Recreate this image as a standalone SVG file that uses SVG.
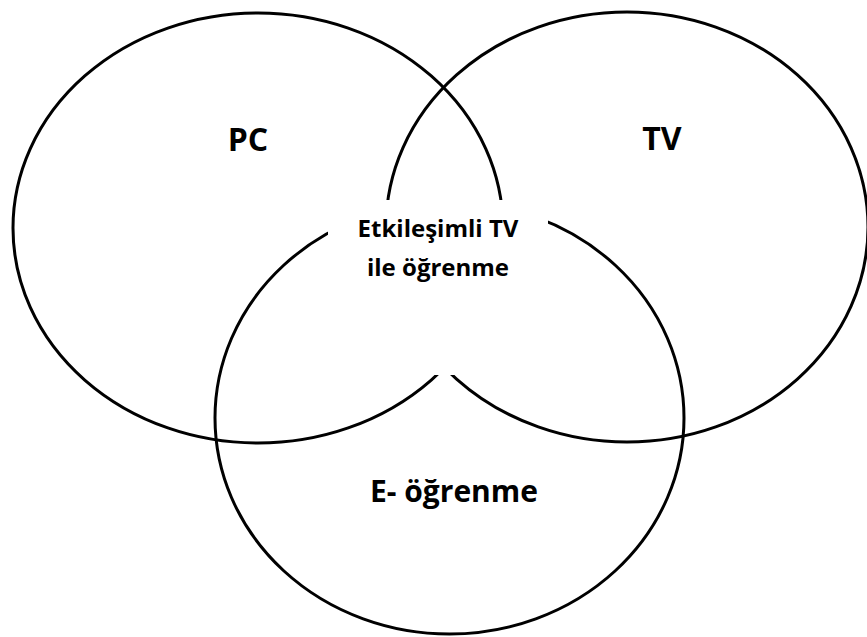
<svg xmlns="http://www.w3.org/2000/svg" width="867" height="637" viewBox="0 0 867 637">
  <style>
    .ring { fill: none; stroke: #000; stroke-width: 3; }
    .label { font-family: "Open Sans", "Liberation Sans", sans-serif; font-weight: bold; fill: #000; text-anchor: middle; }
  </style>
  <rect x="0" y="0" width="867" height="637" fill="#fff"/>
  <g id="pc">
    <ellipse class="ring" cx="258" cy="228" rx="245" ry="215"/>
  </g>
  <g id="tv">
    <ellipse class="ring" cx="627" cy="227" rx="241" ry="215"/>
  </g>
  <g id="e-ogrenme">
    <ellipse class="ring" cx="449.5" cy="418" rx="234.5" ry="216"/>
  </g>
  <!-- white label box over the shared middle region -->
  <g id="etkilesimli-tv">
    <rect x="328" y="200" width="220" height="175" fill="#fff"/>
    <text class="label" x="438" y="237" font-size="24">Etkileşimli TV</text>
    <text class="label" x="438" y="276" font-size="24">ile öğrenme</text>
  </g>
  <g id="labels">
    <text class="label" x="248" y="151" font-size="32">PC</text>
    <text class="label" x="662" y="150" font-size="32">TV</text>
    <text class="label" x="454" y="502" font-size="30">E- öğrenme</text>
  </g>
</svg>
